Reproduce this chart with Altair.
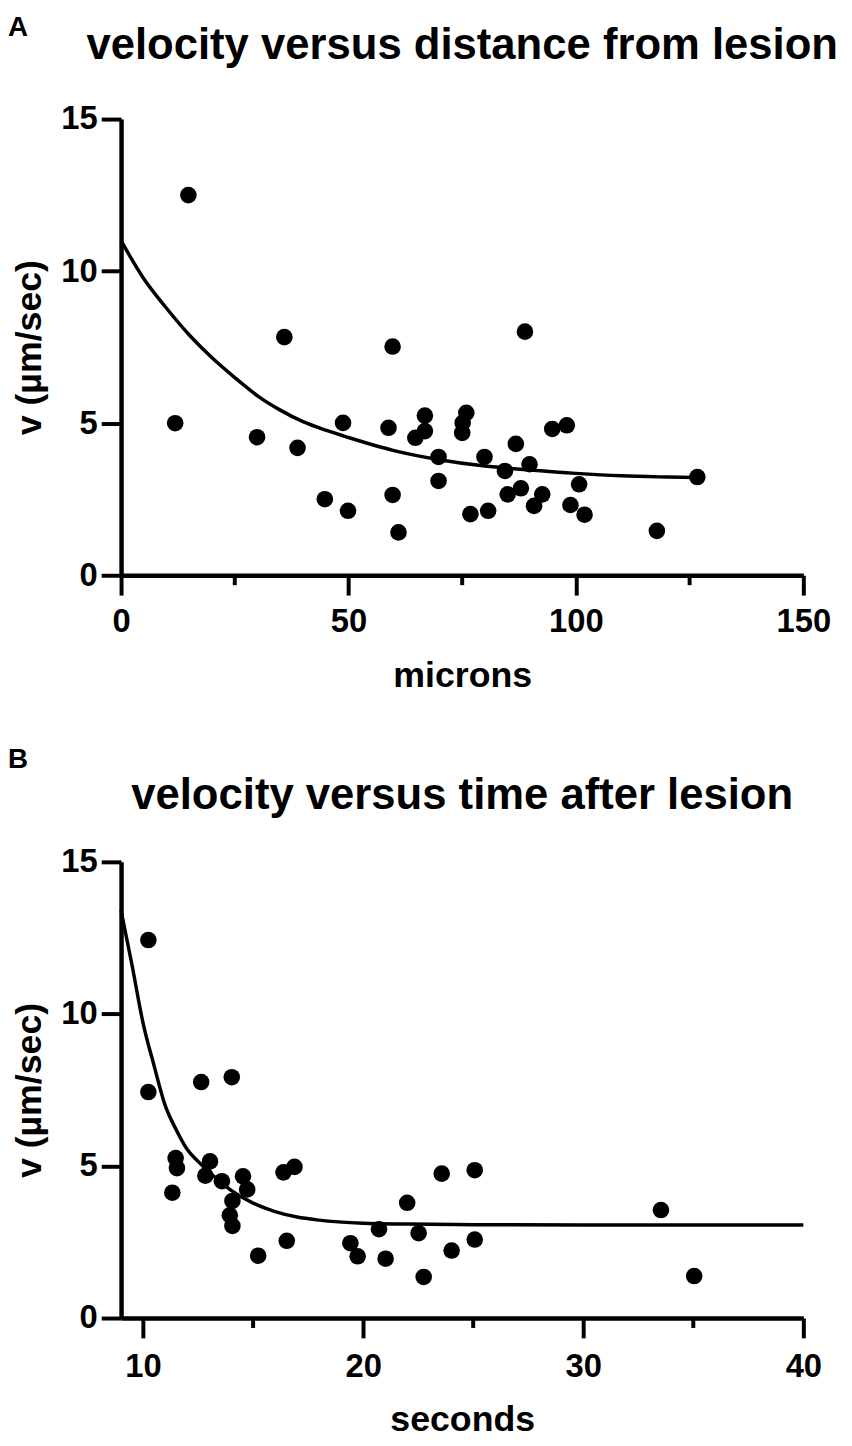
import altair as alt
import pandas as pd

# ---------------- data ----------------
# Panel A: velocity vs distance from lesion
dist_um = [11.9, 14.8, 29.9, 35.9, 38.8, 44.8, 48.8, 49.9, 58.8, 59.7,
           59.7, 61.0, 64.7, 66.8, 66.8, 69.8, 69.8, 75.0, 75.1, 75.9,
           76.8, 79.9, 80.7, 84.4, 85.0, 86.8, 87.9, 88.8, 89.8, 90.8,
           92.6, 94.8, 98.0, 98.8, 100.7, 101.9, 117.8, 126.7]
dist_v = [5.0, 12.5, 4.54, 7.83, 4.19, 2.5, 5.01, 2.12, 4.85, 7.52,
          2.64, 1.41, 4.52, 4.74, 5.25, 3.89, 3.1, 4.68, 5.01, 5.34,
          2.01, 3.89, 2.12, 3.43, 2.66, 4.32, 2.86, 8.01, 3.65, 2.28,
          2.66, 4.81, 4.93, 2.31, 2.99, 1.99, 1.46, 3.23]
# fitted curve, values
fitA_x = [0, 5, 10, 15, 20, 25, 30, 35, 40, 45, 50, 60, 70, 80, 90, 100, 110, 120, 127]
fitA_v = [11.0, 9.75, 8.78, 7.9, 7.15, 6.5, 5.9, 5.43, 5.05, 4.77, 4.53, 4.1,
          3.8, 3.59, 3.46, 3.35, 3.27, 3.23, 3.21]

# Panel B: velocity vs time after lesion
time_s = [10.24, 10.24, 12.64, 14.03, 11.48, 11.54, 11.33, 13.04, 12.83, 13.58,
          14.54, 14.73, 14.06, 13.94, 14.06, 15.23, 16.38, 16.88, 16.53, 19.42,
          19.75, 20.72, 21.02, 22.0, 22.52, 22.75, 23.57, 24.02, 25.07, 25.07,
          33.53, 35.04]
time_v = [12.43, 7.43, 7.76, 7.92, 5.26, 4.93, 4.12, 5.15, 4.68, 4.5,
          4.66, 4.23, 3.85, 3.38, 3.03, 2.05, 4.79, 4.97, 2.54, 2.46,
          2.03, 2.92, 1.95, 3.79, 2.79, 1.35, 4.75, 2.22, 4.86, 2.58,
          3.55, 1.38]
fitB_x = [9, 9.5, 10, 10.5, 11, 11.5, 12, 12.5, 13, 14, 15, 16, 17, 18, 20, 22, 25, 30, 40]
fitB_v = [13.4, 11.6, 9.7, 8.3, 7.0, 6.2, 5.55, 5.15, 4.8, 4.2, 3.78, 3.5, 3.32,
          3.22, 3.12, 3.09, 3.07, 3.06, 3.06]

# axes / text
y_ticks = [0, 5, 10, 15]
xA_ticks = [0, 50, 100, 150]
xA_minor = [25, 75, 125]
xB_ticks = [10, 20, 30, 40]
xB_minor = [15, 25, 35]
titles = ["velocity versus distance from lesion", "velocity versus time after lesion"]
letters = ["A", "B"]
x_titles = ["microns", "seconds"]
y_title = "v (µm/sec)"

# ---------------- chart ----------------
FONT = "Liberation Sans"
W, H = 688, 460


def panel(px, pv, fx, fv, xdom, xticks, xminor, xtitle, title, letter,
          letter_y, title_y, xtitle_y, xlabel_pad):
    pts = pd.DataFrame({"x": px, "v": pv})
    fit = pd.DataFrame({"x": fx, "v": fv})
    mnr = pd.DataFrame({"x": xminor})
    xs = alt.Scale(domain=xdom, nice=False, zero=False)
    ys = alt.Scale(domain=[0, 15], nice=False)
    xaxis = alt.Axis(values=xticks, title=xtitle, titleY=xtitle_y,
                     titleBaseline="alphabetic", labelBaseline="alphabetic",
                     labelPadding=xlabel_pad, format="d")
    yaxis = alt.Axis(values=y_ticks, title=y_title, titleX=-92, titleY=H / 2,
                     titleAngle=270, titleBaseline="middle", titleAlign="center",
                     labelPadding=4, format="d")

    points = alt.Chart(pts).mark_circle(size=280, color="black", opacity=1).encode(
        x=alt.X("x:Q", scale=xs, axis=xaxis),
        y=alt.Y("v:Q", scale=ys, axis=yaxis),
    )
    line = alt.Chart(fit).mark_line(color="black", strokeWidth=3.5,
                                    interpolate="monotone").encode(
        x=alt.X("x:Q", scale=xs, axis=xaxis),
        y=alt.Y("v:Q", scale=ys, axis=yaxis),
    )
    minor = alt.Chart(mnr).mark_rule(color="black", strokeWidth=4).encode(
        x=alt.X("x:Q", scale=xs, axis=xaxis),
        y=alt.value(H),
        y2=alt.value(H + 10),
    )
    ttl = alt.Chart(pd.DataFrame({"t": [title]})).mark_text(
        font=FONT, fontSize=44, fontWeight="bold", color="black",
        align="center", baseline="alphabetic",
    ).encode(text="t:N", x=alt.value(W / 2), y=alt.value(title_y))
    let = alt.Chart(pd.DataFrame({"t": [letter]})).mark_text(
        font=FONT, fontSize=28, fontWeight="bold", color="black",
        align="left", baseline="top",
    ).encode(text="t:N", x=alt.value(-114), y=alt.value(letter_y))
    return alt.layer(line, points, minor, ttl, let).properties(width=W, height=H)


pA = panel(dist_um, dist_v, fitA_x, fitA_v, [0, 150], xA_ticks, xA_minor,
           x_titles[0], titles[0], letters[0], -106, -61, 112, 37)
pB = panel(time_s, time_v, fitB_x, fitB_v, [9, 40], xB_ticks, xB_minor,
           x_titles[1], titles[1], letters[1], -117, -53, 113, 39)

chart = alt.vconcat(pA, pB, spacing=53).properties(
    padding={"left": 0, "top": 0, "right": 5, "bottom": 0}
).configure_view(stroke=None).configure_axis(
    grid=False,
    domainColor="black", domainWidth=4.5,
    tickColor="black", tickWidth=4, tickSize=20,
    labelFont=FONT, labelFontSize=33, labelFontWeight="bold", labelColor="black",
    titleFont=FONT, titleFontSize=36, titleFontWeight="bold", titleColor="black",
    labelFlush=False,
)

chart.save("out.html", embed_options={"renderer": "svg", "actions": False})
